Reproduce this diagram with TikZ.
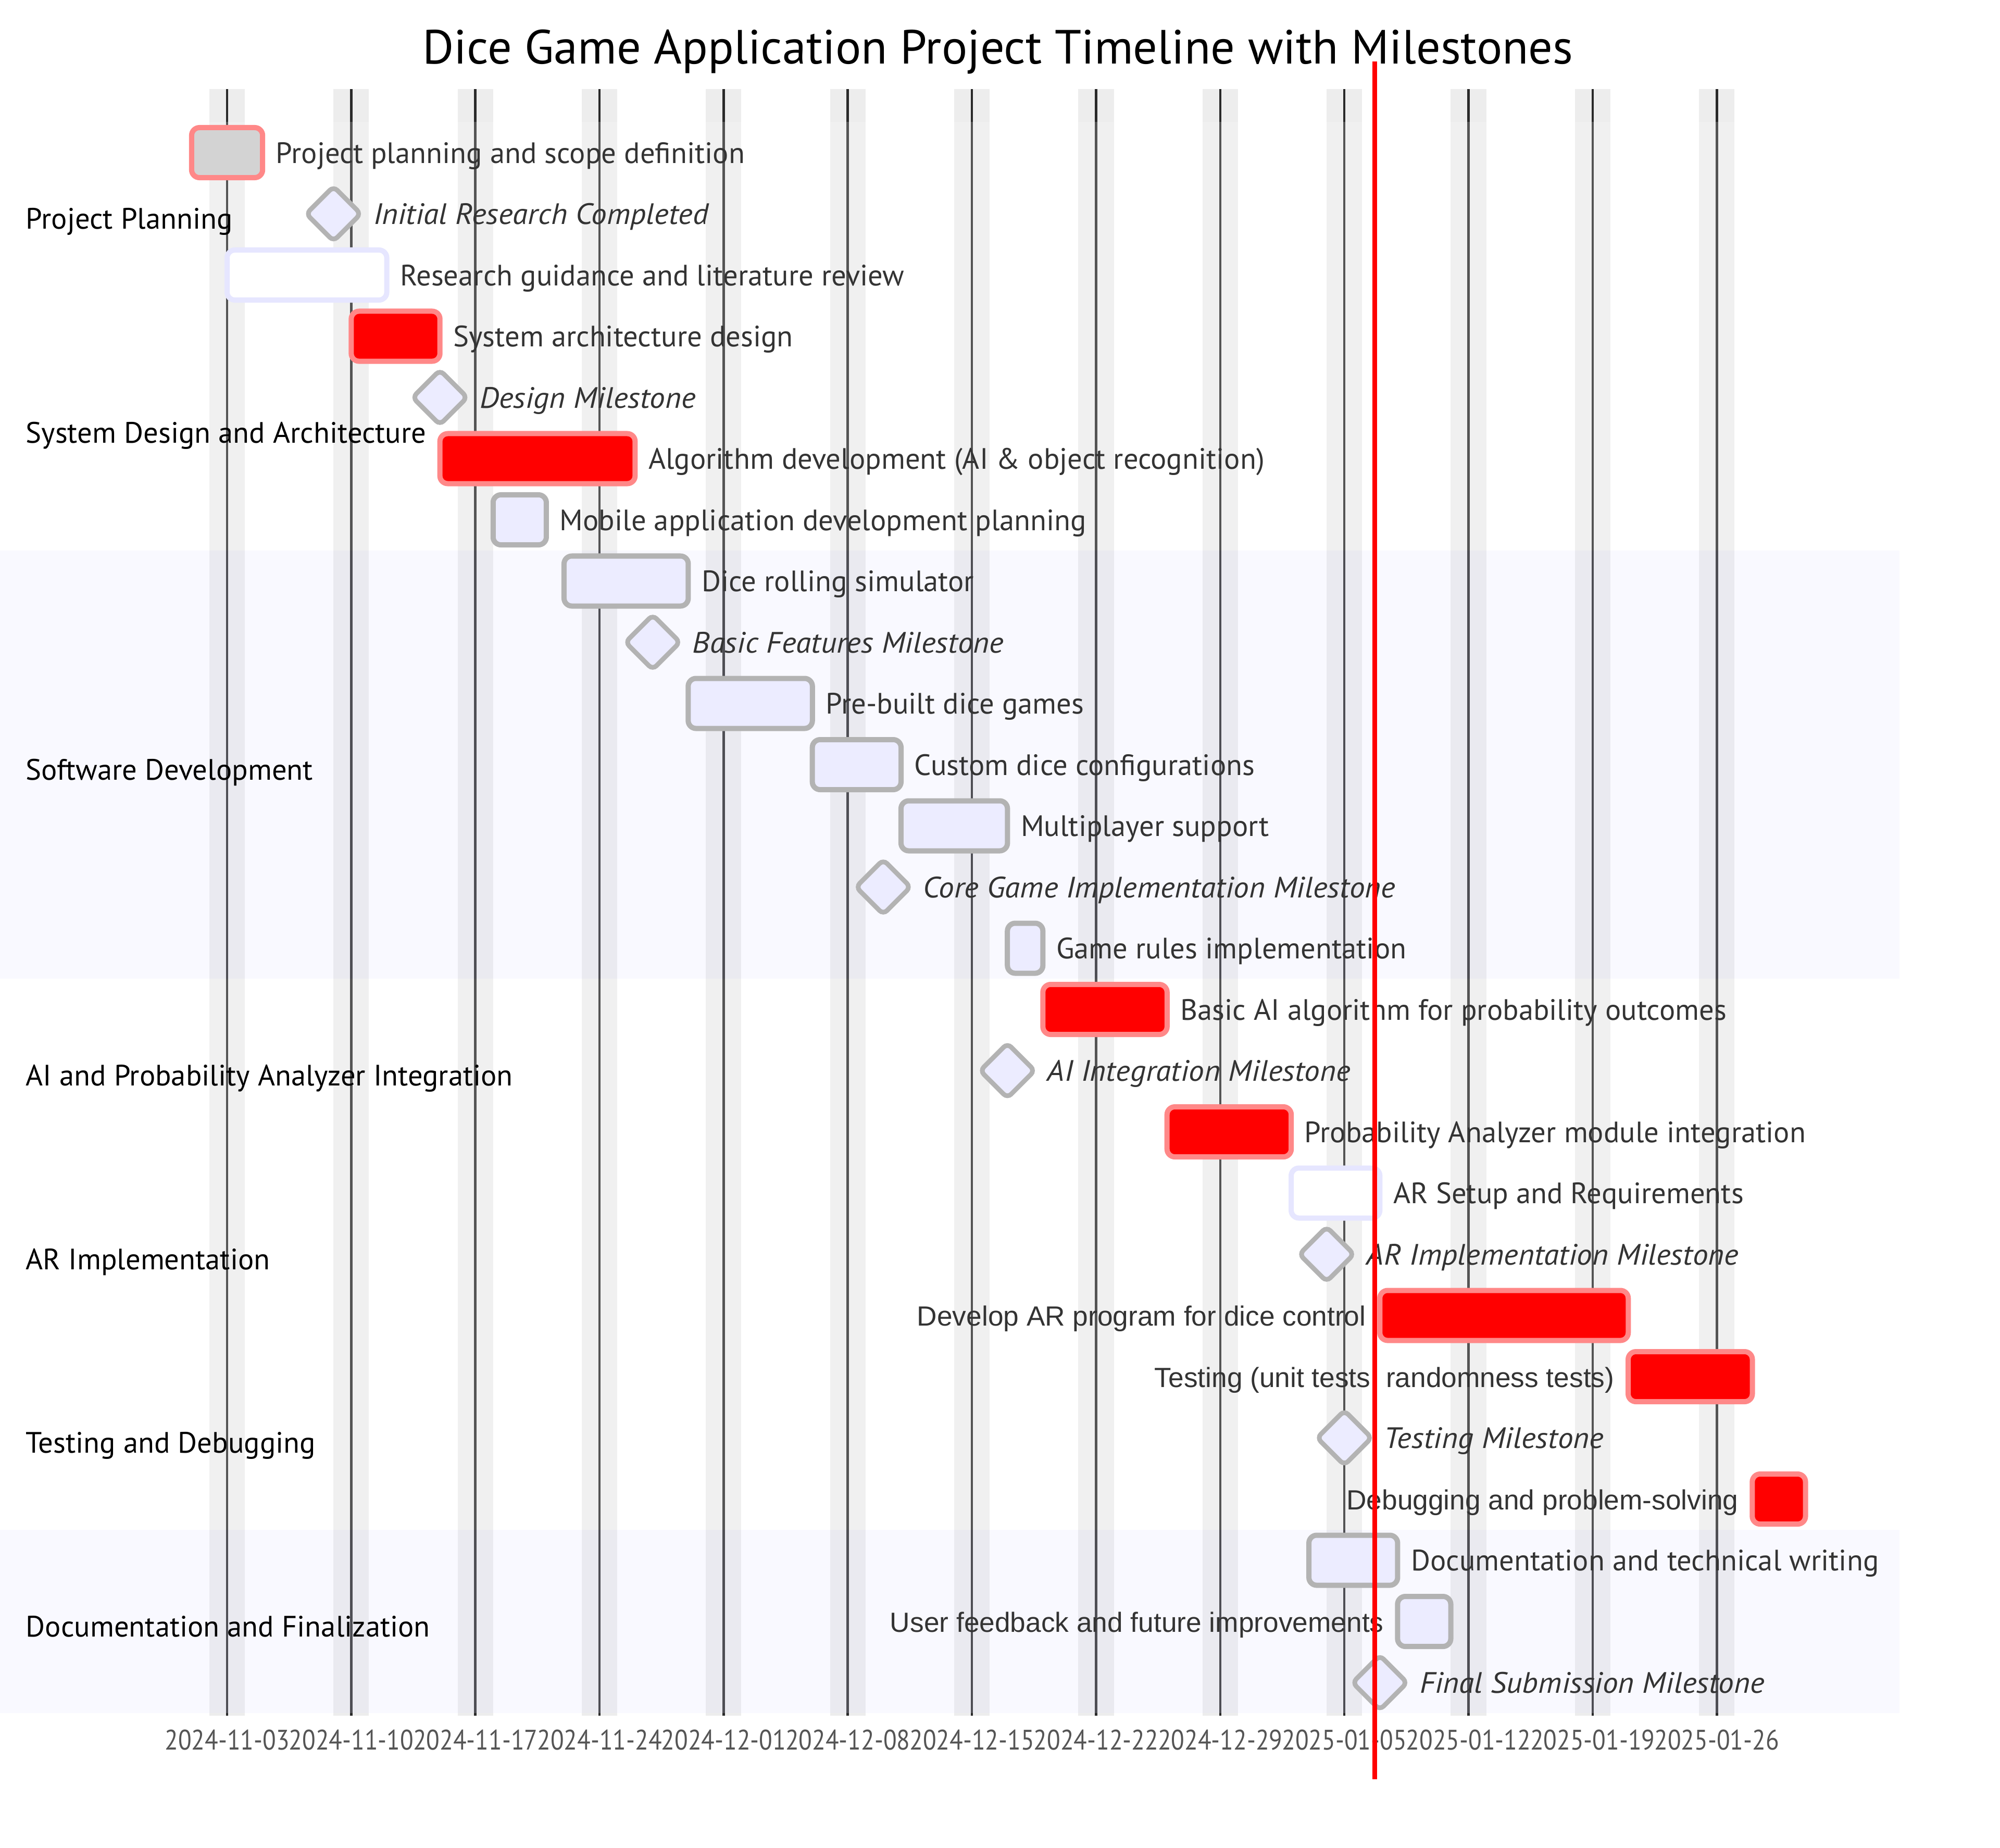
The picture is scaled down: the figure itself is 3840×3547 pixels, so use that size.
\documentclass[tikz,border=0pt]{standalone}
\usepackage{fontspec}
\setmainfont{PT Sans}
\newfontfamily\arialfont{Liberation Sans}
\newfontfamily\msfont[FakeStretch=1.05]{PT Sans Italic}
\newfontfamily\tickfont[FakeStretch=0.87]{PT Sans}
\usetikzlibrary{positioning}

\definecolor{critred}{HTML}{FF0000}
\definecolor{critedge}{HTML}{FF8888}
\definecolor{taskfill}{HTML}{ECECFF}
\definecolor{taskedge}{HTML}{B3B3B3}
\definecolor{activeedge}{HTML}{E6E6FF}
\definecolor{donefill}{HTML}{D3D3D3}
\definecolor{lbltext}{HTML}{333333}
\definecolor{weekendgrey}{HTML}{EDEDED}
\definecolor{gridgrey}{HTML}{2A2A2A}
\definecolor{secblue}{RGB}{225,225,255}
\definecolor{ticktext}{HTML}{555555}

\tikzset{
  bar/.style={draw, rectangle, rounded corners=0.15cm, line width=0.1cm,
    minimum height=0.96cm, anchor=west, inner sep=0pt, outer sep=0pt},
  critbar/.style={bar, fill=critred, draw=critedge},
  donebar/.style={bar, fill=donefill, draw=critedge},
  taskbar/.style={bar, fill=taskfill, draw=taskedge},
  activebar/.style={bar, fill=white, draw=activeedge},
  milestone/.style={draw=taskedge, fill=taskfill, line width=0.09cm, rectangle,
    rotate=45, minimum size=0.74cm, rounded corners=0.1cm, inner sep=0pt},
  tasklbl/.style={font=\fontsize{16.1}{19}\selectfont, text=lbltext, inner sep=0pt,
    text height=0.4cm, text depth=0pt},
  leftlbl/.style={tasklbl, font=\arialfont\fontsize{15.15}{18}\selectfont},
  mslbl/.style={tasklbl, font=\msfont\fontsize{16.1}{19}\selectfont},
  seclbl/.style={font=\fontsize{16.1}{19}\selectfont, text=black, inner sep=0pt,
    text height=0.4cm, text depth=0pt, anchor=west},
  ticklbl/.style={font=\tickfont\fontsize{15.4}{18}\selectfont, text=ticktext, inner sep=0pt,
    text height=0.38cm, text depth=0pt},
  weekend/.style={fill=weekendgrey},
  gridline/.style={draw=gridgrey, line width=0.046cm},
  whitesec/.style={fill=white, fill opacity=0.2},
  bluesec/.style={fill=secblue, fill opacity=0.2},
  todayline/.style={draw=critred, line width=0.09cm}
}

\begin{document}
\begin{tikzpicture}[x=0.01cm, y=-0.01cm]
  \useasboundingbox (0,0) rectangle (3840,3547);

  % Title
  \node[font=\fontsize{26.2}{31}\selectfont, inner sep=0pt, text height=0.65cm, text depth=0pt] (title) at (1916,90)
    {Dice Game Application Project Timeline with Milestones};

  % Weekend bands, week grid and dates
  \fill[weekend] (401.95,171) rectangle (470.05,3294); \draw[gridline] (436,171) -- (436,3294);
  \fill[weekend] (640.3,171) rectangle (708.4,3294); \draw[gridline] (674.35,171) -- (674.35,3294);
  \fill[weekend] (878.65,171) rectangle (946.75,3294); \draw[gridline] (912.7,171) -- (912.7,3294);
  \fill[weekend] (1117,171) rectangle (1185.1,3294); \draw[gridline] (1151.05,171) -- (1151.05,3294);
  \fill[weekend] (1355.35,171) rectangle (1423.45,3294); \draw[gridline] (1389.4,171) -- (1389.4,3294);
  \fill[weekend] (1593.7,171) rectangle (1661.8,3294); \draw[gridline] (1627.75,171) -- (1627.75,3294);
  \fill[weekend] (1832.05,171) rectangle (1900.15,3294); \draw[gridline] (1866.1,171) -- (1866.1,3294);
  \fill[weekend] (2070.4,171) rectangle (2138.5,3294); \draw[gridline] (2104.45,171) -- (2104.45,3294);
  \fill[weekend] (2308.75,171) rectangle (2376.85,3294); \draw[gridline] (2342.8,171) -- (2342.8,3294);
  \fill[weekend] (2547.1,171) rectangle (2615.2,3294); \draw[gridline] (2581.15,171) -- (2581.15,3294);
  \fill[weekend] (2785.45,171) rectangle (2853.55,3294); \draw[gridline] (2819.5,171) -- (2819.5,3294);
  \fill[weekend] (3023.8,171) rectangle (3091.9,3294); \draw[gridline] (3057.85,171) -- (3057.85,3294);
  \fill[weekend] (3262.15,171) rectangle (3330.25,3294); \draw[gridline] (3296.2,171) -- (3296.2,3294);

  \node[ticklbl] (tk0) at (436,3340) {2024-11-03};
  \node[ticklbl] (tk1) at (674.35,3340) {2024-11-10};
  \node[ticklbl] (tk2) at (912.7,3340) {2024-11-17};
  \node[ticklbl] (tk3) at (1151.05,3340) {2024-11-24};
  \node[ticklbl] (tk4) at (1389.4,3340) {2024-12-01};
  \node[ticklbl] (tk5) at (1627.75,3340) {2024-12-08};
  \node[ticklbl] (tk6) at (1866.1,3340) {2024-12-15};
  \node[ticklbl] (tk7) at (2104.45,3340) {2024-12-22};
  \node[ticklbl] (tk8) at (2342.8,3340) {2024-12-29};
  \node[ticklbl] (tk9) at (2581.15,3340) {2025-01-05};
  \node[ticklbl] (tk10) at (2819.5,3340) {2025-01-12};
  \node[ticklbl] (tk11) at (3057.85,3340) {2025-01-19};
  \node[ticklbl] (tk12) at (3296.2,3340) {2025-01-26};

  % Section backgrounds
  \fill[whitesec] (0,234.25) rectangle (3647,586.75);
  \fill[whitesec] (0,586.75) rectangle (3647,1056.75);
  \fill[bluesec] (0,1056.75) rectangle (3647,1879.25);
  \fill[whitesec] (0,1879.25) rectangle (3647,2231.75);
  \fill[whitesec] (0,2231.75) rectangle (3647,2584.25);
  \fill[whitesec] (0,2584.25) rectangle (3647,2936.75);
  \fill[bluesec] (0,2936.75) rectangle (3647,3289.25);

  % Section titles
  \node[seclbl] (secplan) at (49,419.5) {Project Planning};
  \node[seclbl] (secdesign) at (49,830.75) {System Design and Architecture};
  \node[seclbl] (secsoft) at (49,1477) {Software Development};
  \node[seclbl] (secai) at (49,2064.5) {AI and Probability Analyzer Integration};
  \node[seclbl] (secar) at (49,2417) {AR Implementation};
  \node[seclbl] (sectest) at (49,2769.5) {Testing and Debugging};
  \node[seclbl] (secdoc) at (49,3122) {Documentation and Finalization};

  % Project Planning
  \node[donebar, minimum width=1.362cm] (plan) at (367.9,293) {};
  \node[tasklbl, right=0.25cm of plan] (planlbl) {Project planning and scope definition};
  \node[milestone] (msresearch) at (640.3,410.5) {};
  \node[mslbl, right=0.76cm of msresearch.center] (msresearchlbl) {Initial Research Completed};
  \node[activebar, minimum width=3.0645cm] (litrev) at (436,528) {};
  \node[tasklbl, right=0.25cm of litrev] (litrevlbl) {Research guidance and literature review};

  % System Design and Architecture
  \node[critbar, minimum width=1.7025cm] (sysarch) at (674.35,645.5) {};
  \node[tasklbl, right=0.25cm of sysarch] (sysarchlbl) {System architecture design};
  \node[milestone] (msdesign) at (844.6,763) {};
  \node[mslbl, right=0.76cm of msdesign.center] (msdesignlbl) {Design Milestone};
  \node[critbar, minimum width=3.7455cm] (algo) at (844.6,880.5) {};
  \node[tasklbl, right=0.25cm of algo] (algolbl) {Algorithm development (AI \& object recognition)};
  \node[taskbar, minimum width=1.0215cm] (mobplan) at (946.75,998) {};
  \node[tasklbl, right=0.25cm of mobplan] (mobplanlbl) {Mobile application development planning};

  % Software Development
  \node[taskbar, minimum width=2.3835cm] (roller) at (1082.95,1115.5) {};
  \node[tasklbl, right=0.25cm of roller] (rollerlbl) {Dice rolling simulator};
  \node[milestone] (msbasic) at (1253.2,1233) {};
  \node[mslbl, right=0.76cm of msbasic.center] (msbasiclbl) {Basic Features Milestone};
  \node[taskbar, minimum width=2.3835cm] (prebuilt) at (1321.3,1350.5) {};
  \node[tasklbl, right=0.25cm of prebuilt] (prebuiltlbl) {Pre-built dice games};
  \node[taskbar, minimum width=1.7025cm] (customcfg) at (1559.65,1468) {};
  \node[tasklbl, right=0.25cm of customcfg] (customcfglbl) {Custom dice configurations};
  \node[taskbar, minimum width=2.043cm] (multi) at (1729.9,1585.5) {};
  \node[tasklbl, right=0.25cm of multi] (multilbl) {Multiplayer support};
  \node[milestone] (mscore) at (1695.85,1703) {};
  \node[mslbl, right=0.76cm of mscore.center] (mscorelbl) {Core Game Implementation Milestone};
  \node[taskbar, minimum width=0.681cm] (rules) at (1934.2,1820.5) {};
  \node[tasklbl, right=0.25cm of rules] (ruleslbl) {Game rules implementation};

  % AI and Probability Analyzer Integration
  \node[critbar, minimum width=2.3835cm] (basicai) at (2002.3,1938) {};
  \node[tasklbl, right=0.25cm of basicai] (basicailbl) {Basic AI algorithm for probability outcomes};
  \node[milestone] (msai) at (1934.2,2055.5) {};
  \node[mslbl, right=0.76cm of msai.center] (msailbl) {AI Integration Milestone};
  \node[critbar, minimum width=2.3835cm] (analyzer) at (2240.65,2173) {};
  \node[tasklbl, right=0.25cm of analyzer] (analyzerlbl) {Probability Analyzer module integration};

  % AR Implementation
  \node[activebar, minimum width=1.7025cm] (arsetup) at (2479,2290.5) {};
  \node[tasklbl, right=0.25cm of arsetup] (arsetuplbl) {AR Setup and Requirements};
  \node[milestone] (msar) at (2547.1,2408) {};
  \node[mslbl, right=0.76cm of msar.center] (msarlbl) {AR Implementation Milestone};
  \node[critbar, minimum width=4.767cm] (arprog) at (2649.25,2525.5) {};
  \node[leftlbl, left=0.26cm of arprog] (arproglbl) {Develop AR program for dice control};

  % Testing and Debugging
  \node[critbar, minimum width=2.3835cm] (testing) at (3126,2643) {};
  \node[leftlbl, left=0.26cm of testing] (testinglbl) {Testing (unit tests, randomness tests)};
  \node[milestone] (mstest) at (2581.15,2760.5) {};
  \node[mslbl, right=0.76cm of mstest.center] (mstestlbl) {Testing Milestone};
  \node[critbar, minimum width=1.0215cm] (debug) at (3364.3,2878) {};
  \node[leftlbl, left=0.26cm of debug] (debuglbl) {Debugging and problem-solving};

  % Documentation and Finalization
  \node[taskbar, minimum width=1.7025cm] (docs) at (2513.05,2995.5) {};
  \node[tasklbl, right=0.25cm of docs] (docslbl) {Documentation and technical writing};
  \node[taskbar, minimum width=1.0215cm] (feedback) at (2683.3,3113) {};
  \node[leftlbl, left=0.26cm of feedback] (feedbacklbl) {User feedback and future improvements};
  \node[milestone] (msfinal) at (2649.25,3230.5) {};
  \node[mslbl, right=0.76cm of msfinal.center] (msfinallbl) {Final Submission Milestone};

  % Today marker
  \coordinate (nowtop) at (2639,118);
  \coordinate (nowbot) at (2639,3416);
  \draw[todayline] (nowtop) -- (nowbot);
\end{tikzpicture}
\end{document}
